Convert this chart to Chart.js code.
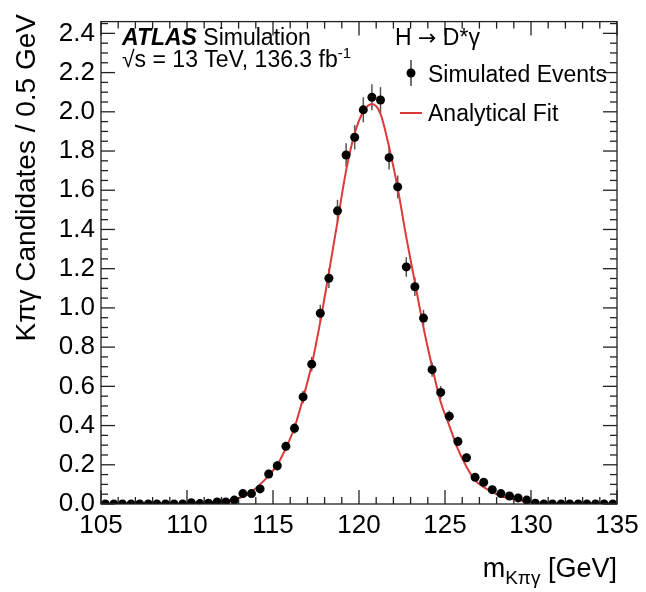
<!DOCTYPE html>
<html>
<head>
<meta charset="utf-8">
<script src="https://cdn.jsdelivr.net/npm/chart.js@4"></script>
<style>
  html, body { margin: 0; padding: 0; background: #fff; }
  #wrap { width: 646px; height: 592px; }
</style>
</head>
<body>
<div id="wrap"><canvas id="graficoMasa" width="646" height="592"></canvas></div>
<script>
// centros de los bins (0.5 GeV)
const binCenters = [
  105.25, 105.75, 106.25, 106.75, 107.25, 107.75, 108.25, 108.75, 109.25, 109.75,
  110.25, 110.75, 111.25, 111.75, 112.25, 112.75, 113.25, 113.75, 114.25, 114.75,
  115.25, 115.75, 116.25, 116.75, 117.25, 117.75, 118.25, 118.75, 119.25, 119.75,
  120.25, 120.75, 121.25, 121.75, 122.25, 122.75, 123.25, 123.75, 124.25, 124.75,
  125.25, 125.75, 126.25, 126.75, 127.25, 127.75, 128.25, 128.75, 129.25, 129.75,
  130.25, 130.75, 131.25, 131.75, 132.25, 132.75, 133.25, 133.75, 134.25, 134.75
];
const simEvents = [
  0, 0, 0, 0, 0, 0, 0, 0, 0, 0,
  0.007, 0.002, 0.004, 0.010, 0.010, 0.020, 0.053, 0.053, 0.077, 0.153,
  0.195, 0.294, 0.386, 0.546, 0.713, 0.973, 1.151, 1.495, 1.780, 1.870,
  2.010, 2.074, 2.060, 1.766, 1.617, 1.209, 1.108, 0.948, 0.685, 0.569,
  0.448, 0.319, 0.236, 0.136, 0.111, 0.073, 0.053, 0.041, 0.031, 0.020,
  0.004, 0, 0, 0, 0, 0, 0, 0, 0, 0
];
const simErrors = [
  0, 0, 0, 0, 0, 0, 0, 0, 0, 0,
  0.006, 0.004, 0.005, 0.008, 0.008, 0.010, 0.014, 0.014, 0.017, 0.022,
  0.025, 0.023, 0.027, 0.032, 0.037, 0.043, 0.050, 0.056, 0.060, 0.062,
  0.064, 0.066, 0.066, 0.060, 0.058, 0.050, 0.047, 0.042, 0.036, 0.033,
  0.029, 0.025, 0.022, 0.017, 0.015, 0.012, 0.010, 0.009, 0.008, 0.006,
  0.003, 0, 0, 0, 0, 0, 0, 0, 0, 0
];
// curva del ajuste
const fitMass = [
  110.0, 110.25, 110.75, 111.25, 111.75, 112.25, 112.75, 113.25, 113.75, 114.25,
  114.75, 115.25, 115.75, 116.25, 116.75, 117.25, 117.75, 118.25, 118.75, 119.25,
  119.75, 120.25, 120.75, 121.25, 121.75, 122.25, 122.75, 123.25, 123.75, 124.25,
  124.75, 125.25, 125.75, 126.25, 126.75, 127.25, 127.75, 128.25, 128.75, 129.25,
  129.75, 130.0
];
const fitValues = [
  0.002, 0.003, 0.005, 0.007, 0.011, 0.017, 0.025, 0.037, 0.062, 0.100,
  0.145, 0.200, 0.285, 0.390, 0.540, 0.710, 0.930, 1.180, 1.440, 1.700,
  1.890, 2.000, 2.040, 1.990, 1.820, 1.610, 1.360, 1.130, 0.900, 0.700,
  0.520, 0.400, 0.280, 0.190, 0.120, 0.086, 0.061, 0.041, 0.028, 0.020,
  0.012, 0.010
];
const xTicks = [105, 110, 115, 120, 125, 130, 135];
const yTicks = [0, 0.2, 0.4, 0.6, 0.8, 1.0, 1.2, 1.4, 1.6, 1.8, 2.0, 2.2, 2.4];

const FONT = '"Liberation Sans", Arial, Helvetica, sans-serif';
const ROJO = '#dc3a3a';

function linea(ctx, x1, y1, x2, y2) {
  ctx.beginPath();
  ctx.moveTo(x1, y1);
  ctx.lineTo(x2, y2);
  ctx.stroke();
}

// escribe trozos seguidos con fuentes distintas
function trozos(ctx, x, y, partes) {
  partes.forEach(([txt, font, dy]) => {
    ctx.font = font;
    ctx.fillText(txt, x, y + (dy || 0));
    x += ctx.measureText(txt).width;
  });
  return x;
}

const estiloAtlas = {
  id: 'estiloAtlas',
  beforeDatasetsDraw(chart) {
    const { ctx, scales: { x, y } } = chart;
    ctx.save();
    ctx.strokeStyle = '#555';
    ctx.lineWidth = 1.5;
    binCenters.forEach((m, i) => {
      const e = simErrors[i];
      if (!e) return;
      const px = x.getPixelForValue(m);
      linea(ctx, px, y.getPixelForValue(simEvents[i] - e), px, y.getPixelForValue(simEvents[i] + e));
    });
    ctx.restore();
  },
  afterDraw(chart) {
    const { ctx, chartArea: { left, right, top, bottom }, scales: { x, y } } = chart;
    ctx.save();

    // marco y marcas hacia dentro
    ctx.strokeStyle = '#222';
    ctx.lineWidth = 1.3;
    ctx.strokeRect(left, top, right - left, bottom - top);
    for (let m = x.min; m <= x.max; m += 1) {
      const len = xTicks.includes(m) ? 14 : 7;
      const px = x.getPixelForValue(m);
      linea(ctx, px, bottom, px, bottom - len);
      linea(ctx, px, top, px, top + len);
    }
    for (let k = 0; k * 0.05 <= y.max; k++) {
      const len = k % 4 === 0 ? 14 : 7;
      const py = y.getPixelForValue(k * 0.05);
      linea(ctx, left, py, left + len, py);
      linea(ctx, right, py, right - len, py);
    }

    ctx.fillStyle = '#000';
    ctx.textBaseline = 'alphabetic';

    // titulo eje y
    ctx.save();
    ctx.translate(35, 14);
    ctx.rotate(-Math.PI / 2);
    ctx.textAlign = 'right';
    ctx.font = '28px ' + FONT;
    ctx.fillText('K\u03c0\u03b3 Candidates / 0.5 GeV', 0, 0);
    ctx.restore();

    // titulo eje x con subindice
    ctx.textAlign = 'left';
    ctx.font = '27px ' + FONT;
    const wUnit = ctx.measureText(' [GeV]').width;
    const wM = ctx.measureText('m').width;
    ctx.font = '19px ' + FONT;
    const wSub = ctx.measureText('K\u03c0\u03b3').width;
    trozos(ctx, right - wUnit - wSub - wM, 577, [
      ['m', '27px ' + FONT],
      ['K\u03c0\u03b3', '19px ' + FONT, 7],
      [' [GeV]', '27px ' + FONT]
    ]);

    // etiqueta ATLAS
    const F23 = '23px ' + FONT;
    trozos(ctx, 122, 45, [
      ['ATLAS ', 'italic bold 23px ' + FONT],
      ['Simulation', F23]
    ]);
    trozos(ctx, 122, 67, [
      ['\u221as = 13 TeV, 136.3 fb', F23],
      ['-1', '15px ' + FONT, -9]
    ]);
    trozos(ctx, 395, 45, [
      ['H ', F23],
      ['\u2192', '22px "DejaVu Sans", sans-serif'],
      [' D*\u03b3', F23]
    ]);

    // leyenda
    ctx.strokeStyle = '#444';
    ctx.lineWidth = 1.5;
    linea(ctx, 411, 60, 411, 86);
    ctx.beginPath();
    ctx.arc(411, 73, 4.5, 0, Math.PI * 2);
    ctx.fill();
    ctx.font = F23;
    ctx.fillText('Simulated Events', 428, 82);

    ctx.strokeStyle = ROJO;
    ctx.lineWidth = 2;
    linea(ctx, 400, 113, 422, 113);
    ctx.fillText('Analytical Fit', 428, 121);

    ctx.restore();
  }
};

Chart.defaults.font.family = FONT;
Chart.defaults.color = '#000';

new Chart(document.getElementById('graficoMasa'), {
  type: 'scatter',
  data: {
    datasets: [
      {
        label: 'Simulated Events',
        data: binCenters.map((m, i) => ({ x: m, y: simEvents[i] })),
        backgroundColor: '#000',
        borderWidth: 0,
        pointRadius: 4.5,
        pointHoverRadius: 4.5,
        order: 0
      },
      {
        type: 'line',
        label: 'Analytical Fit',
        data: fitMass.map((m, i) => ({ x: m, y: fitValues[i] })),
        borderColor: ROJO,
        borderWidth: 2,
        pointRadius: 0,
        fill: false,
        cubicInterpolationMode: 'monotone',
        order: 1
      }
    ]
  },
  options: {
    responsive: false,
    animation: false,
    devicePixelRatio: 1,
    layout: { padding: { left: 0, top: 11, right: 29, bottom: 0 } },
    plugins: {
      legend: { display: false },
      tooltip: { enabled: false }
    },
    scales: {
      x: {
        type: 'linear',
        min: 105,
        max: 135,
        grid: { display: false, drawTicks: false },
        border: { display: false },
        afterBuildTicks: s => { s.ticks = xTicks.map(v => ({ value: v })); },
        afterFit: s => { s.height = 88; },
        ticks: {
          font: { size: 26 },
          padding: 6,
          maxRotation: 0,
          autoSkip: false,
          callback: v => String(v)
        }
      },
      y: {
        min: 0,
        max: 2.46,
        grid: { display: false, drawTicks: false },
        border: { display: false },
        afterBuildTicks: s => { s.ticks = yTicks.map(v => ({ value: v })); },
        afterFit: s => { s.width = 101; },
        ticks: {
          font: { size: 26 },
          padding: 6,
          callback: v => v.toFixed(1)
        }
      }
    }
  },
  plugins: [estiloAtlas]
});
</script>
</body>
</html>
